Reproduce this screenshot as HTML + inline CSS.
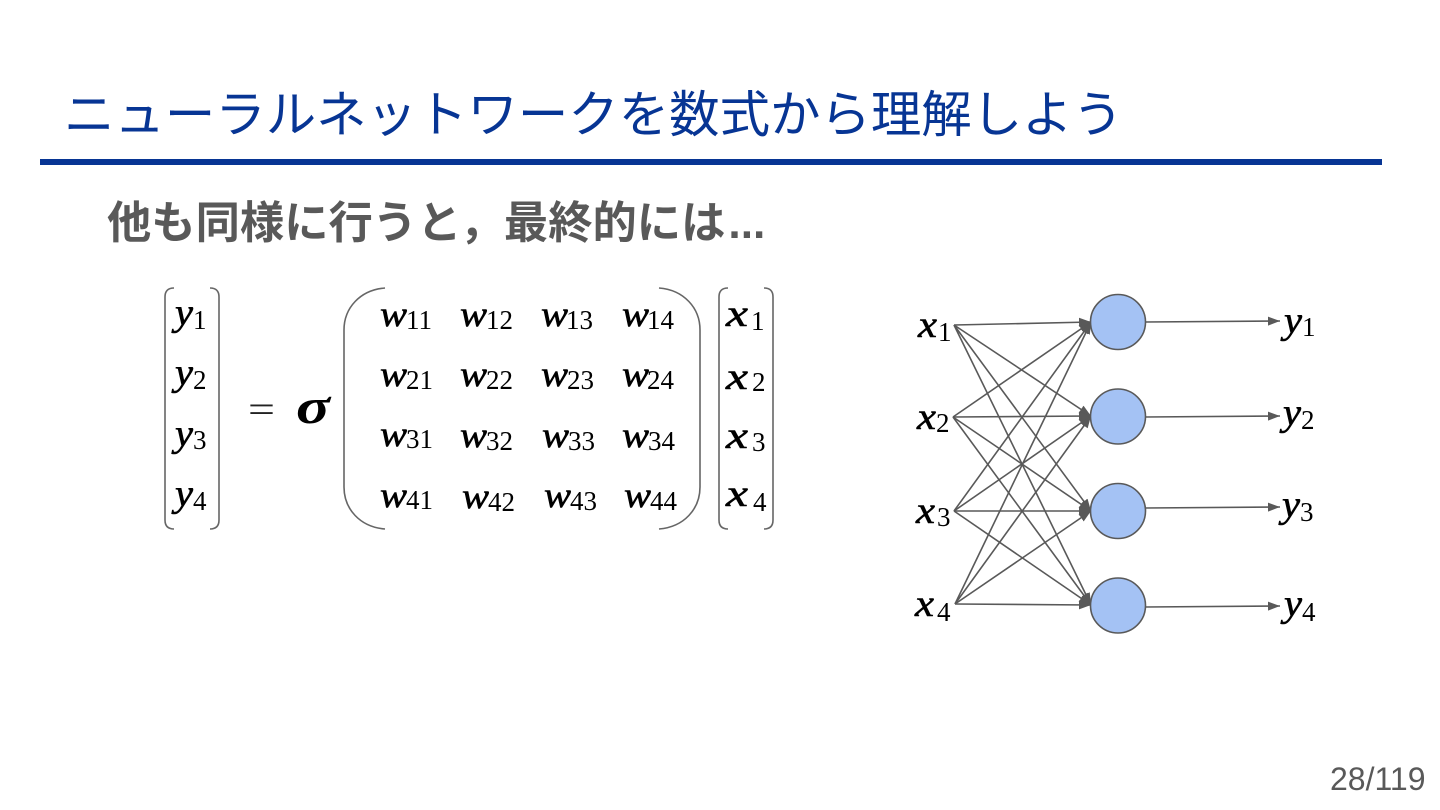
<!DOCTYPE html>
<html><head><meta charset="utf-8"><style>
html,body{margin:0;padding:0;background:#fff;width:1440px;height:810px;overflow:hidden}
svg{display:block}
.m{font-family:"Liberation Serif",serif;font-style:italic;font-size:38px;fill:#000;stroke:#000;stroke-width:.6px}
.s{font-family:"Liberation Serif",serif;font-size:27px;fill:#000}
.w{font-size:36px}
</style></head><body>
<svg width="1440" height="810" viewBox="0 0 1440 810" xmlns="http://www.w3.org/2000/svg">
<defs><marker id="a" markerUnits="userSpaceOnUse" markerWidth="14" markerHeight="10" refX="12" refY="5" orient="auto"><path d="M0 0.5L12 5L0 9.5Z" fill="#595959"/></marker></defs>
<text x="64" y="132" font-family="'WenQuanYi Zen Hei','Noto Sans CJK JP',sans-serif" font-size="50" fill="#073594" textLength="1059" lengthAdjust="spacingAndGlyphs">ニューラルネットワークを数式から理解しよう</text>
<rect x="40" y="159" width="1342" height="6" fill="#073594"/>
<text x="107" y="238" font-family="'Liberation Sans','WenQuanYi Zen Hei','Noto Sans CJK JP',sans-serif" font-size="44.3" font-weight="700" fill="#595959">他も同様に行うと&#xFF0C;最終的には<tspan dx="3">...</tspan></text>
<text x="1330" y="790" font-family="'Liberation Sans',sans-serif" font-size="32" fill="#595959">28/119</text>

<g fill="none" stroke="#666" stroke-width="1.6">
<path d="M174 288C168 288 165 291 165 297V520C165 526 168 529 174 529"/>
<path d="M210 288C216 288 219 291 219 297V520C219 526 216 529 210 529"/>
<path d="M385 288C360 290 344 308 344 330V487C344 509 360 527 385 529"/>
<path d="M659 288C684 290 700 308 700 330V487C700 509 684 527 659 529"/>
<path d="M728 288C722 288 719 291 719 297V520C719 526 722 529 728 529"/>
<path d="M764 288C770 288 773 291 773 297V520C773 526 770 529 764 529"/>
</g>

<g>
<text class="m" x="175" y="325" textLength="18" lengthAdjust="spacingAndGlyphs">y</text><text class="s" x="193" y="329">1</text>
<text class="m" x="175" y="385" textLength="18" lengthAdjust="spacingAndGlyphs">y</text><text class="s" x="193" y="389">2</text>
<text class="m" x="175" y="446" textLength="18" lengthAdjust="spacingAndGlyphs">y</text><text class="s" x="193" y="449">3</text>
<text class="m" x="175" y="506" textLength="18" lengthAdjust="spacingAndGlyphs">y</text><text class="s" x="193" y="510">4</text>
</g>
<text x="248" y="422" font-family="'Liberation Serif',serif" font-size="38" fill="#222" textLength="27" lengthAdjust="spacingAndGlyphs">=</text>
<text x="296" y="423" font-family="'Liberation Serif',serif" font-style="italic" font-weight="700" font-size="50" fill="#000" textLength="34" lengthAdjust="spacingAndGlyphs">σ</text>

<g>
<text class="m w" x="380" y="326" textLength="27" lengthAdjust="spacingAndGlyphs">w</text><text class="s" x="406" y="329">11</text>
<text class="m w" x="460" y="326" textLength="27" lengthAdjust="spacingAndGlyphs">w</text><text class="s" x="486" y="329">12</text>
<text class="m w" x="541" y="326" textLength="27" lengthAdjust="spacingAndGlyphs">w</text><text class="s" x="566" y="329">13</text>
<text class="m w" x="622" y="326" textLength="27" lengthAdjust="spacingAndGlyphs">w</text><text class="s" x="647" y="329">14</text>
<text class="m w" x="380" y="386" textLength="27" lengthAdjust="spacingAndGlyphs">w</text><text class="s" x="406" y="389">21</text>
<text class="m w" x="460" y="386" textLength="27" lengthAdjust="spacingAndGlyphs">w</text><text class="s" x="486" y="389">22</text>
<text class="m w" x="541" y="386" textLength="27" lengthAdjust="spacingAndGlyphs">w</text><text class="s" x="567" y="389">23</text>
<text class="m w" x="622" y="386" textLength="27" lengthAdjust="spacingAndGlyphs">w</text><text class="s" x="647" y="389">24</text>
<text class="m w" x="380" y="446" textLength="27" lengthAdjust="spacingAndGlyphs">w</text><text class="s" x="406" y="448">31</text>
<text class="m w" x="460" y="447" textLength="27" lengthAdjust="spacingAndGlyphs">w</text><text class="s" x="486" y="450">32</text>
<text class="m w" x="542" y="447" textLength="27" lengthAdjust="spacingAndGlyphs">w</text><text class="s" x="568" y="450">33</text>
<text class="m w" x="622" y="447" textLength="27" lengthAdjust="spacingAndGlyphs">w</text><text class="s" x="648" y="450">34</text>
<text class="m w" x="380" y="507" textLength="27" lengthAdjust="spacingAndGlyphs">w</text><text class="s" x="406" y="509">41</text>
<text class="m w" x="462" y="508" textLength="27" lengthAdjust="spacingAndGlyphs">w</text><text class="s" x="488" y="511">42</text>
<text class="m w" x="544" y="507" textLength="27" lengthAdjust="spacingAndGlyphs">w</text><text class="s" x="570" y="510">43</text>
<text class="m w" x="624" y="507" textLength="27" lengthAdjust="spacingAndGlyphs">w</text><text class="s" x="650" y="510">44</text>
</g>

<g>
<text class="m" x="726" y="326" textLength="22" lengthAdjust="spacingAndGlyphs">x</text><text class="s" x="751" y="330">1</text>
<text class="m" x="726" y="389" textLength="22" lengthAdjust="spacingAndGlyphs">x</text><text class="s" x="752" y="391">2</text>
<text class="m" x="726" y="448" textLength="22" lengthAdjust="spacingAndGlyphs">x</text><text class="s" x="752" y="451">3</text>
<text class="m" x="726" y="506" textLength="22" lengthAdjust="spacingAndGlyphs">x</text><text class="s" x="753" y="511">4</text>
</g>

<g stroke="#595959" stroke-width="1.6" fill="none">
<line x1="954" y1="325" x2="1091" y2="322" marker-end="url(#a)"/>
<line x1="954" y1="325" x2="1091" y2="416" marker-end="url(#a)"/>
<line x1="954" y1="325" x2="1091" y2="511" marker-end="url(#a)"/>
<line x1="954" y1="325" x2="1091" y2="605" marker-end="url(#a)"/>
<line x1="953" y1="417" x2="1091" y2="322" marker-end="url(#a)"/>
<line x1="953" y1="417" x2="1091" y2="416" marker-end="url(#a)"/>
<line x1="953" y1="417" x2="1091" y2="511" marker-end="url(#a)"/>
<line x1="953" y1="417" x2="1091" y2="605" marker-end="url(#a)"/>
<line x1="954" y1="511" x2="1091" y2="322" marker-end="url(#a)"/>
<line x1="954" y1="511" x2="1091" y2="416" marker-end="url(#a)"/>
<line x1="954" y1="511" x2="1091" y2="511" marker-end="url(#a)"/>
<line x1="954" y1="511" x2="1091" y2="605" marker-end="url(#a)"/>
<line x1="955" y1="604" x2="1091" y2="322" marker-end="url(#a)"/>
<line x1="955" y1="604" x2="1091" y2="416" marker-end="url(#a)"/>
<line x1="955" y1="604" x2="1091" y2="511" marker-end="url(#a)"/>
<line x1="955" y1="604" x2="1091" y2="605" marker-end="url(#a)"/>
<line x1="1145" y1="322" x2="1280" y2="321" marker-end="url(#a)"/>
<line x1="1145" y1="417" x2="1280" y2="416" marker-end="url(#a)"/>
<line x1="1145" y1="508" x2="1280" y2="507" marker-end="url(#a)"/>
<line x1="1145" y1="607" x2="1280" y2="606" marker-end="url(#a)"/>
</g>
<g fill="#a4c2f4" stroke="#595959" stroke-width="1.6">
<circle cx="1118" cy="322" r="27.5"/>
<circle cx="1118" cy="416.5" r="27.5"/>
<circle cx="1118" cy="511" r="27.5"/>
<circle cx="1118" cy="605.5" r="27.5"/>
</g>

<text class="m" x="918" y="337" textLength="19" lengthAdjust="spacingAndGlyphs">x</text><text class="s" x="938" y="341">1</text>
<text class="m" x="917" y="429" textLength="19" lengthAdjust="spacingAndGlyphs">x</text><text class="s" x="936" y="432">2</text>
<text class="m" x="916" y="523" textLength="19" lengthAdjust="spacingAndGlyphs">x</text><text class="s" x="937" y="526">3</text>
<text class="m" x="915" y="616" textLength="19" lengthAdjust="spacingAndGlyphs">x</text><text class="s" x="937" y="621">4</text>
<text class="m" x="1284" y="333" textLength="18" lengthAdjust="spacingAndGlyphs">y</text><text class="s" x="1302" y="336">1</text>
<text class="m" x="1283" y="425" textLength="18" lengthAdjust="spacingAndGlyphs">y</text><text class="s" x="1301" y="429">2</text>
<text class="m" x="1282" y="517" textLength="18" lengthAdjust="spacingAndGlyphs">y</text><text class="s" x="1300" y="521">3</text>
<text class="m" x="1284" y="616" textLength="18" lengthAdjust="spacingAndGlyphs">y</text><text class="s" x="1302" y="621">4</text>
</svg>
</body></html>
